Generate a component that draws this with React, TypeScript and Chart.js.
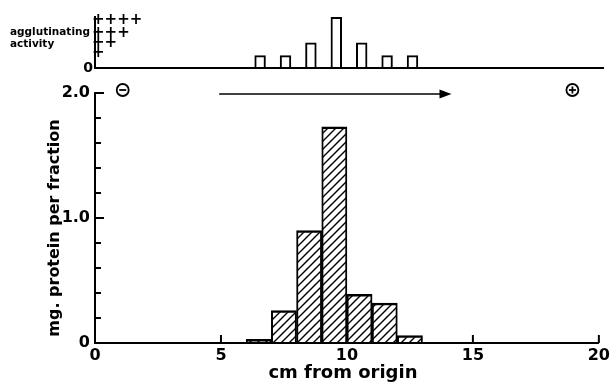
import { useEffect, useRef } from "react";
import { Chart, registerables } from "chart.js";

Chart.register(...registerables);

// ---- data ----
const fractionCenters = [6.5, 7.5, 8.5, 9.5, 10.5, 11.5, 12.5]; // cm from origin
const proteinMg = [0.03, 0.26, 0.9, 1.73, 0.39, 0.32, 0.06]; // mg. protein per fraction
const agglutinatingActivity = [1, 1, 2, 4, 2, 1, 1]; // number of "+"
const xTicks = [0, 5, 10, 15, 20];
const yMajorTicks = [0, 1, 2];
const yMinorTicks = [0.2, 0.4, 0.6, 0.8, 1.2, 1.4, 1.6, 1.8];
const activityLabels = ["+", "++", "+++", "++++"];
const activityLabelPos = [1.15, 1.94, 2.77, 3.76];
const migrationArrow = [4.93, 14.15];
const cathodeX = 1.1;
const anodeX = 18.95;

const FONT = '"DejaVu Sans", sans-serif';

function makeHatch(): CanvasPattern | string {
  const c = document.createElement("canvas");
  c.width = 8;
  c.height = 8;
  const g = c.getContext("2d");
  if (!g) return "#fff";
  g.strokeStyle = "#000";
  g.lineWidth = 1.4;
  g.beginPath();
  g.moveTo(0, 8);
  g.lineTo(8, 0);
  g.moveTo(-1, 1);
  g.lineTo(1, -1);
  g.moveTo(7, 9);
  g.lineTo(9, 7);
  g.stroke();
  return g.createPattern(c, "repeat") || "#fff";
}

function line(ctx: CanvasRenderingContext2D, x1: number, y1: number, x2: number, y2: number) {
  ctx.beginPath();
  ctx.moveTo(x1, y1);
  ctx.lineTo(x2, y2);
  ctx.stroke();
}

const mainDecor = {
  id: "mainDecor",
  afterDraw(chart: any) {
    const { ctx, chartArea, scales } = chart;
    const x = scales.x;
    const y = scales.y;
    ctx.save();
    ctx.strokeStyle = "#000";
    ctx.fillStyle = "#000";
    ctx.lineWidth = 2;
    // inward ticks on y
    for (const v of yMajorTicks) {
      const py = y.getPixelForValue(v);
      line(ctx, chartArea.left, py, chartArea.left + 9, py);
    }
    for (const v of yMinorTicks) {
      const py = y.getPixelForValue(v);
      line(ctx, chartArea.left, py, chartArea.left + 6, py);
    }
    // inward ticks on x
    for (const v of xTicks) {
      if (v === 0) continue;
      const px = x.getPixelForValue(v);
      line(ctx, px, chartArea.bottom, px, chartArea.bottom - 8);
    }
    // axis titles
    ctx.textAlign = "center";
    ctx.textBaseline = "middle";
    ctx.save();
    ctx.font = `bold 16px ${FONT}`;
    ctx.translate(55, (chartArea.top + chartArea.bottom) / 2 + 10);
    ctx.rotate(-Math.PI / 2);
    ctx.fillText("mg. protein per fraction", 0, 0);
    ctx.restore();
    ctx.font = `bold 18px ${FONT}`;
    ctx.fillText("cm from origin", (chartArea.left + chartArea.right) / 2 - 4, 373);

    // migration arrow
    const ay = y.getPixelForValue(2) + 1;
    const ax1 = x.getPixelForValue(migrationArrow[0]);
    const ax2 = x.getPixelForValue(migrationArrow[1]);
    ctx.lineWidth = 1.6;
    line(ctx, ax1, ay, ax2 - 8, ay);
    ctx.beginPath();
    ctx.moveTo(ax2, ay);
    ctx.lineTo(ax2 - 12, ay - 4.5);
    ctx.lineTo(ax2 - 12, ay + 4.5);
    ctx.closePath();
    ctx.fill();

    // electrode symbols
    const cy = y.getPixelForValue(2) - 3;
    const cx = x.getPixelForValue(cathodeX);
    const px = x.getPixelForValue(anodeX);
    ctx.lineWidth = 1.8;
    ctx.beginPath();
    ctx.arc(cx, cy, 6, 0, Math.PI * 2);
    ctx.stroke();
    line(ctx, cx - 3.5, cy, cx + 3.5, cy);
    ctx.beginPath();
    ctx.arc(px, cy, 6, 0, Math.PI * 2);
    ctx.stroke();
    line(ctx, px - 3.5, cy, px + 3.5, cy);
    line(ctx, px, cy - 3.5, px, cy + 3.5);
    ctx.restore();
  },
};

const topDecor = {
  id: "topDecor",
  afterDraw(chart: any) {
    const { ctx, chartArea, scales } = chart;
    const y = scales.y;
    ctx.save();
    ctx.fillStyle = "#000";
    ctx.textBaseline = "middle";
    ctx.textAlign = "left";
    ctx.font = `bold 15px ${FONT}`;
    activityLabels.forEach((t, i) => {
      ctx.fillText(t, chartArea.left - 3, y.getPixelForValue(activityLabelPos[i]));
    });
    ctx.font = `bold 10.5px ${FONT}`;
    ctx.fillText("agglutinating", 10, 32);
    ctx.fillText("activity", 10, 44);
    ctx.restore();
  },
};

export default function App() {
  const mainRef = useRef<HTMLCanvasElement>(null);
  const topRef = useRef<HTMLCanvasElement>(null);

  useEffect(() => {
    const hatch = makeHatch();
    const tickFont = { family: FONT, size: 16, weight: "bold" as const };

    const main = new Chart(mainRef.current!, {
      type: "bar",
      data: {
        datasets: [
          {
            data: fractionCenters.map((x, i) => ({ x, y: proteinMg[i] })),
            backgroundColor: hatch as any,
            borderColor: "#000",
            borderWidth: { top: 2, left: 1.3, right: 1.3, bottom: 0 },
            borderSkipped: false,
            barPercentage: 1,
            categoryPercentage: 1,
          },
        ],
      },
      options: {
        animation: false,
        responsive: false,
        events: [],
        layout: { padding: { top: 93, right: 11, left: 0, bottom: 0 } },
        plugins: { legend: { display: false }, tooltip: { enabled: false } },
        scales: {
          x: {
            type: "linear",
            min: 0,
            max: 20,
            offset: false,
            afterFit: (s: any) => {
              s.height = 39;
            },
            afterBuildTicks: (s: any) => {
              s.ticks = xTicks.map((v) => ({ value: v }));
            },
            ticks: { color: "#000", font: tickFont, padding: 3, maxRotation: 0, autoSkip: false },
            grid: { display: false, drawTicks: false },
            border: { display: true, color: "#000", width: 2 },
          },
          y: {
            type: "linear",
            min: 0,
            max: 2,
            afterFit: (s: any) => {
              s.width = 95;
            },
            afterBuildTicks: (s: any) => {
              s.ticks = yMajorTicks.map((v) => ({ value: v }));
            },
            ticks: {
              color: "#000",
              font: tickFont,
              padding: 5,
              callback: (v: any) => (Number(v) === 0 ? "0" : Number(v).toFixed(1)),
            },
            grid: { display: false, drawTicks: false },
            border: { display: true, color: "#000", width: 2 },
          },
        },
      },
      plugins: [mainDecor],
    });

    const top = new Chart(topRef.current!, {
      type: "bar",
      data: {
        datasets: [
          {
            data: fractionCenters.map((x, i) => ({ x, y: agglutinatingActivity[i] })),
            backgroundColor: "rgba(255,255,255,0)",
            borderColor: "#000",
            borderWidth: 2,
            borderSkipped: "bottom",
            barPercentage: 0.45,
            categoryPercentage: 1,
          },
        ],
      },
      options: {
        animation: false,
        responsive: false,
        events: [],
        layout: { padding: { top: 17, right: 10, left: 0, bottom: 314 } },
        plugins: { legend: { display: false }, tooltip: { enabled: false } },
        scales: {
          x: {
            type: "linear",
            min: 0,
            max: 20,
            offset: false,
            afterFit: (s: any) => {
              s.height = 0;
            },
            ticks: { display: false },
            grid: { display: false, drawTicks: false },
            border: { display: true, color: "#000", width: 2 },
          },
          y: {
            type: "linear",
            min: 0,
            max: 4,
            afterFit: (s: any) => {
              s.width = 95;
            },
            afterBuildTicks: (s: any) => {
              s.ticks = [{ value: 0 }];
            },
            ticks: {
              color: "#000",
              font: { family: FONT, size: 14, weight: "bold" as const },
              padding: 2,
              callback: () => "0",
            },
            grid: { display: false, drawTicks: false },
            border: { display: true, color: "#000", width: 2 },
          },
        },
      },
      plugins: [topDecor],
    });

    return () => {
      main.destroy();
      top.destroy();
    };
  }, []);

  const cs: React.CSSProperties = { position: "absolute", left: 0, top: 0, width: 613, height: 382 };
  return (
    <div style={{ position: "absolute", left: 0, top: 0, width: 613, height: 382, background: "#fff" }}>
      <canvas ref={mainRef} width={613} height={382} style={cs} />
      <canvas ref={topRef} width={613} height={382} style={cs} />
    </div>
  );
}
